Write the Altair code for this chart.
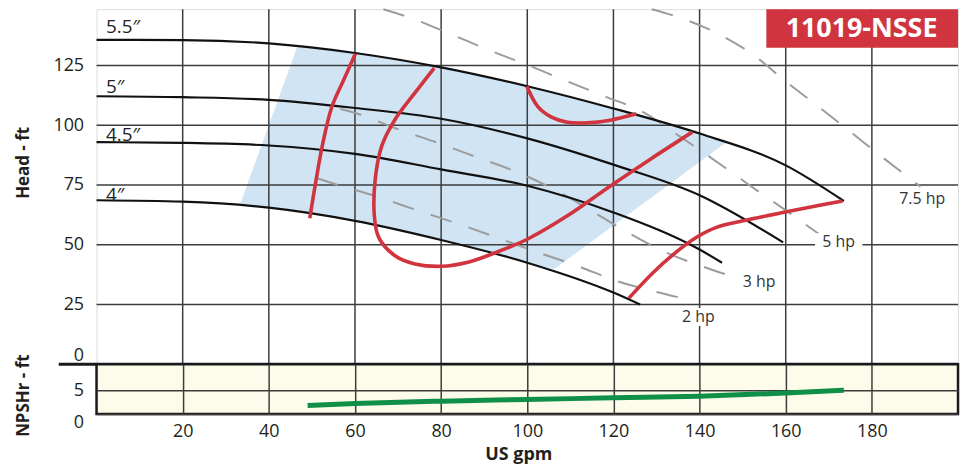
import altair as alt
import pandas as pd

# ---------------- data ----------------
# impeller head curves (US gpm, head ft)
imp55_x = [0, 20, 40, 60, 80, 100, 120, 140, 160, 173.5]
imp55_y = [135.7, 135.6, 134.2, 130.2, 124.2, 116.3, 107, 96.5, 83.2, 68.3]
imp5_x = [0, 20, 40, 60, 80, 100, 120, 140, 159.4]
imp5_y = [112.1, 111.7, 110.6, 107.2, 102.7, 94.5, 83.5, 70.7, 51]
imp45_x = [0, 20, 40, 60, 80, 100, 120, 140, 145.2]
imp45_y = [92.9, 92.6, 91.5, 88, 81.5, 74.7, 63.5, 48, 42.5]
imp4_x = [0, 20, 40, 60, 80, 100, 120, 126.2]
imp4_y = [68.6, 68, 65.5, 60, 52, 42.5, 30, 25]
imp_labels = ["5.5\u2033", "5\u2033", "4.5\u2033", "4\u2033"]
imp_label_x = [2.2, 2.2, 2.2, 2.2]
imp_label_y = [141, 116, 95.7, 71]

# horsepower (dashed) lines
hp75_x = [128.9, 134.7, 143.9, 152.4, 160.1, 167.8, 175.6, 183.3, 191.3]
hp75_y = [148.5, 145.4, 138.6, 129.5, 118.2, 107.5, 96.4, 85.4, 74.3]
hp5_x = [66.6, 72.4, 81.7, 90.9, 99.9, 108.9, 118.1, 127.1, 135.4, 143.5, 151.6, 159.6, 167.7]
hp5_y = [148.5, 145.2, 138.5, 131.5, 125.3, 118.6, 112, 105.3, 95.3, 85.3, 74.9, 64.9, 54.5]
hp3_x = [56.6, 60.5, 69.7, 79.1, 88.6, 97.6, 106.9, 114.9, 123.6, 132.2, 141.2, 148.2]
hp3_y = [106.8, 104.9, 98.5, 92.7, 86.4, 80.4, 72.5, 64.2, 54.9, 46.8, 40.6, 36.4]
hp2_x = [51.2, 55.5, 64.7, 74.3, 83.7, 92.8, 102, 111.5, 120.5, 129.7, 135.9]
hp2_y = [77.8, 75.3, 70.4, 64.5, 58.9, 53.1, 47.1, 41.25, 35, 30.4, 27.7]
hp_labels = ["7.5 hp", "5 hp", "3 hp", "2 hp"]
hp_label_x = [191.7, 172.3, 153.8, 139.7]
hp_label_y = [69, 51.1, 34.5, 19.8]
# white patches behind labels that sit on grid lines
patch_x = [166.8, 136.2]
patch_x2 = [177.8, 143.6]
patch_y = [47.6, 16.0]
patch_y2 = [54.8, 23.6]

# efficiency (red) curves
eff1_x = [60.1, 57.4, 54.6, 52.4, 51.0, 49.5]
eff1_y = [129.9, 119, 107.5, 91.25, 77.4, 61.1]
eff2_x = [78.4, 73.9, 69.3, 66.2, 64.7, 64.5, 65.5, 69.3, 73.9, 80.1, 86.2, 93.2, 100.1, 109.3, 119.3, 128.5, 138.3]
eff2_y = [123.9, 113.5, 102.4, 91.25, 77.4, 62.1, 53.1, 45.4, 42, 41, 42.7, 47.1, 52.4, 62.1, 74.6, 85.7, 97.1]
eff3_x = [99.9, 102.4, 105.5, 109.3, 113.9, 119.3, 125.3]
eff3_y = [116.25, 107.9, 103.5, 101.25, 101, 102.1, 104.75]
eff4_x = [123.6, 129.3, 134.0, 139.3, 143.9, 150.1, 159.3, 167.0, 173.2]
eff4_y = [27.7, 38.5, 46.1, 53.1, 57.25, 60.0, 63.5, 66.25, 68.3]

# preferred operating region (blue polygon)
region_x = [46.7, 60, 80, 100, 120, 140, 146, 106.3, 100, 80, 60, 40, 33.2]
region_y = [133.3, 130.2, 124.2, 116.3, 107, 96.5, 92.5, 39.9, 42.5, 52, 60, 65.5, 66.3]

# NPSHr curve
npsh_x = [49, 60, 80, 100, 120, 140, 160, 173.5]
npsh_y = [1.8, 2.2, 2.7, 3.05, 3.4, 3.75, 4.4, 5.0]

# model badge
badge_text = "11019-NSSE"
badge_x, badge_x2, badge_y, badge_y2 = 155.5, 200, 132.4, 148.5
badge_tx, badge_ty = 177.6, 140.4

grid_x = [20, 40, 60, 80, 100, 120, 140, 160, 180]
grid_head = [25, 50, 75, 100, 125]
head_ticks = [0, 25, 50, 75, 100, 125]
npsh_ticks = [0, 5]

# ---------------- styling ----------------
FONT = "Open Sans"
TXT = "#231f20"
GRID = "#3c3c3c"
RED = "#d0343f"
BLUE = "#d0e4f3"
GREEN = "#0f8f47"
DASH = "#9c9c9c"
W = 866
H_HEAD = 357
H_NPSH = 50
HEAD_MAX = 148.5
NPSH_MAX = 10.4


def frame(xs, ys, name=None):
    d = pd.DataFrame({"x": xs, "y": ys})
    d["i"] = range(len(d))
    if name is not None:
        d["k"] = name
    return d


imp_df = pd.concat([frame(imp55_x, imp55_y, "5.5"), frame(imp5_x, imp5_y, "5"),
                    frame(imp45_x, imp45_y, "4.5"), frame(imp4_x, imp4_y, "4")])
hp_df = pd.concat([frame(hp75_x, hp75_y, "7.5"), frame(hp5_x, hp5_y, "5"),
                   frame(hp3_x, hp3_y, "3"), frame(hp2_x, hp2_y, "2")])
eff_df = pd.concat([frame(eff1_x, eff1_y, "a"), frame(eff2_x, eff2_y, "b"),
                    frame(eff3_x, eff3_y, "c"), frame(eff4_x, eff4_y, "d")])
region_df = frame(region_x, region_y)
imp_lab_df = pd.DataFrame({"x": imp_label_x, "y": imp_label_y, "t": imp_labels})
hp_lab_df = pd.DataFrame({"x": hp_label_x, "y": hp_label_y, "t": hp_labels})
patch_df = pd.DataFrame({"x": patch_x, "x2": patch_x2, "y": patch_y, "y2": patch_y2})
badge_df = pd.DataFrame({"x": [badge_x], "x2": [badge_x2], "y": [badge_y], "y2": [badge_y2]})
badge_t_df = pd.DataFrame({"x": [badge_tx], "y": [badge_ty], "t": [badge_text]})
gx_df = pd.DataFrame({"x": grid_x})
gy_df = pd.DataFrame({"y": grid_head})
sep_df = pd.DataFrame({"y": [0]})
npsh_df = frame(npsh_x, npsh_y)

xs_head = alt.Scale(domain=[0, 200], nice=False, zero=False)
ys_head = alt.Scale(domain=[0, HEAD_MAX], nice=False, zero=False)

head_y_axis = alt.Axis(
    values=head_ticks, grid=False, domain=False, ticks=False, labelOverlap=False,
    labelPadding=13, labelFontSize=18, labelColor=TXT, labelFont=FONT,
    labelBaseline={"condition": {"test": "datum.value == 0", "value": "bottom"}, "value": "middle"},
    title="Head - ft", titleFont=FONT, titleFontSize=17, titleFontWeight="bold", titleColor=TXT,
    titleAngle=-90, titleX=-68, titleY=154, titleAlign="center", titleBaseline="alphabetic",
)


def X(field="x"):
    return alt.X(f"{field}:Q", scale=xs_head, axis=None)


def Y(field="y"):
    return alt.Y(f"{field}:Q", scale=ys_head, axis=head_y_axis)


region = alt.Chart(region_df).mark_line(
    interpolate="linear-closed", fill=BLUE, stroke="transparent", strokeWidth=0
).encode(x=X(), y=Y(), order="i:Q")

vgrid = alt.Chart(gx_df).mark_rule(color=GRID, strokeWidth=1.5).encode(x=X())
hgrid = alt.Chart(gy_df).mark_rule(color=GRID, strokeWidth=1.5).encode(y=Y())

hp_lines = alt.Chart(hp_df).mark_line(
    color=DASH, strokeWidth=2, strokeDash=[22, 18], interpolate="monotone"
).encode(x=X(), y=Y(), detail="k:N", order="i:Q")

imp_lines = alt.Chart(imp_df).mark_line(
    color="#111111", strokeWidth=2.2, interpolate="monotone"
).encode(x=X(), y=Y(), detail="k:N", order="i:Q")

eff_lines = alt.Chart(eff_df).mark_line(
    color=RED, strokeWidth=3.6, interpolate="catmull-rom", strokeCap="butt"
).encode(x=X(), y=Y(), detail="k:N", order="i:Q")

patches = alt.Chart(patch_df).mark_rect(color="white").encode(
    x=X(), x2="x2:Q", y=Y(), y2="y2:Q")

imp_text = alt.Chart(imp_lab_df).mark_text(
    align="left", baseline="middle", font=FONT, fontSize=19, color=TXT
).encode(x=X(), y=Y(), text="t:N")

hp_text = alt.Chart(hp_lab_df).mark_text(
    align="center", baseline="middle", font=FONT, fontSize=16, color="#333333"
).encode(x=X(), y=Y(), text="t:N")

badge = alt.Chart(badge_df).mark_rect(color=RED).encode(
    x=X(), x2="x2:Q", y=Y(), y2="y2:Q")
badge_text_mark = alt.Chart(badge_t_df).mark_text(
    align="center", baseline="middle", font=FONT, fontSize=27, fontWeight="bold", color="white"
).encode(x=X(), y=Y(), text="t:N")

separator = alt.Chart(sep_df).mark_rule(color="#1a1a1a", strokeWidth=3).encode(
    y=Y(), x=alt.value(-38), x2=alt.value(W))

head = alt.layer(
    region, vgrid, hgrid, hp_lines, imp_lines, eff_lines, patches, imp_text, hp_text,
    badge, badge_text_mark, separator
).properties(width=W, height=H_HEAD)

npsh_line = alt.Chart(npsh_df).mark_line(
    color=GREEN, strokeWidth=5, interpolate="monotone", strokeCap="butt"
).encode(
    x=alt.X("x:Q", scale=alt.Scale(domain=[0, 200], nice=False, zero=False),
            axis=alt.Axis(values=grid_x, grid=True, gridColor=GRID, gridWidth=1.5,
                          domain=False, ticks=False, labelPadding=9, labelFontSize=18,
                          labelColor=TXT, labelFont=FONT, labelOverlap=False, labelFlush=False,
                          title="US gpm", titleFont=FONT, titleFontSize=18, titleFontWeight="bold",
                          titleColor=TXT, titleX=424, titleY=46, titleAlign="center",
                          titleBaseline="alphabetic")),
    y=alt.Y("y:Q", scale=alt.Scale(domain=[0, NPSH_MAX], nice=False, zero=False),
            axis=alt.Axis(values=npsh_ticks, grid=True, gridColor=GRID, gridWidth=1.5,
                          domain=False, ticks=False, labelPadding=13, labelFontSize=18,
                          labelColor=TXT, labelFont=FONT, labelOverlap=False,
                          labelBaseline={"condition": {"test": "datum.value == 0", "value": "top"},
                                         "value": "middle"},
                          title="NPSHr - ft", titleFont=FONT, titleFontSize=17,
                          titleFontWeight="bold", titleColor=TXT, titleAngle=-90, titleX=-68,
                          titleY=31, titleAlign="center", titleBaseline="alphabetic")),
    order="i:Q",
).properties(width=W, height=H_NPSH, view=alt.ViewBackground(fill="#fdfbe9", stroke="#1a1a1a", strokeWidth=2.5))

chart = alt.vconcat(head, npsh_line, spacing=0, bounds="flush").properties(
    padding={"left": 5, "top": -5, "right": 2, "bottom": 0},
    background="white",
).configure_view(stroke="#1a1a1a", strokeWidth=2.5).configure(font=FONT)

chart.save("out.html", embed_options={"renderer": "svg", "actions": False})
